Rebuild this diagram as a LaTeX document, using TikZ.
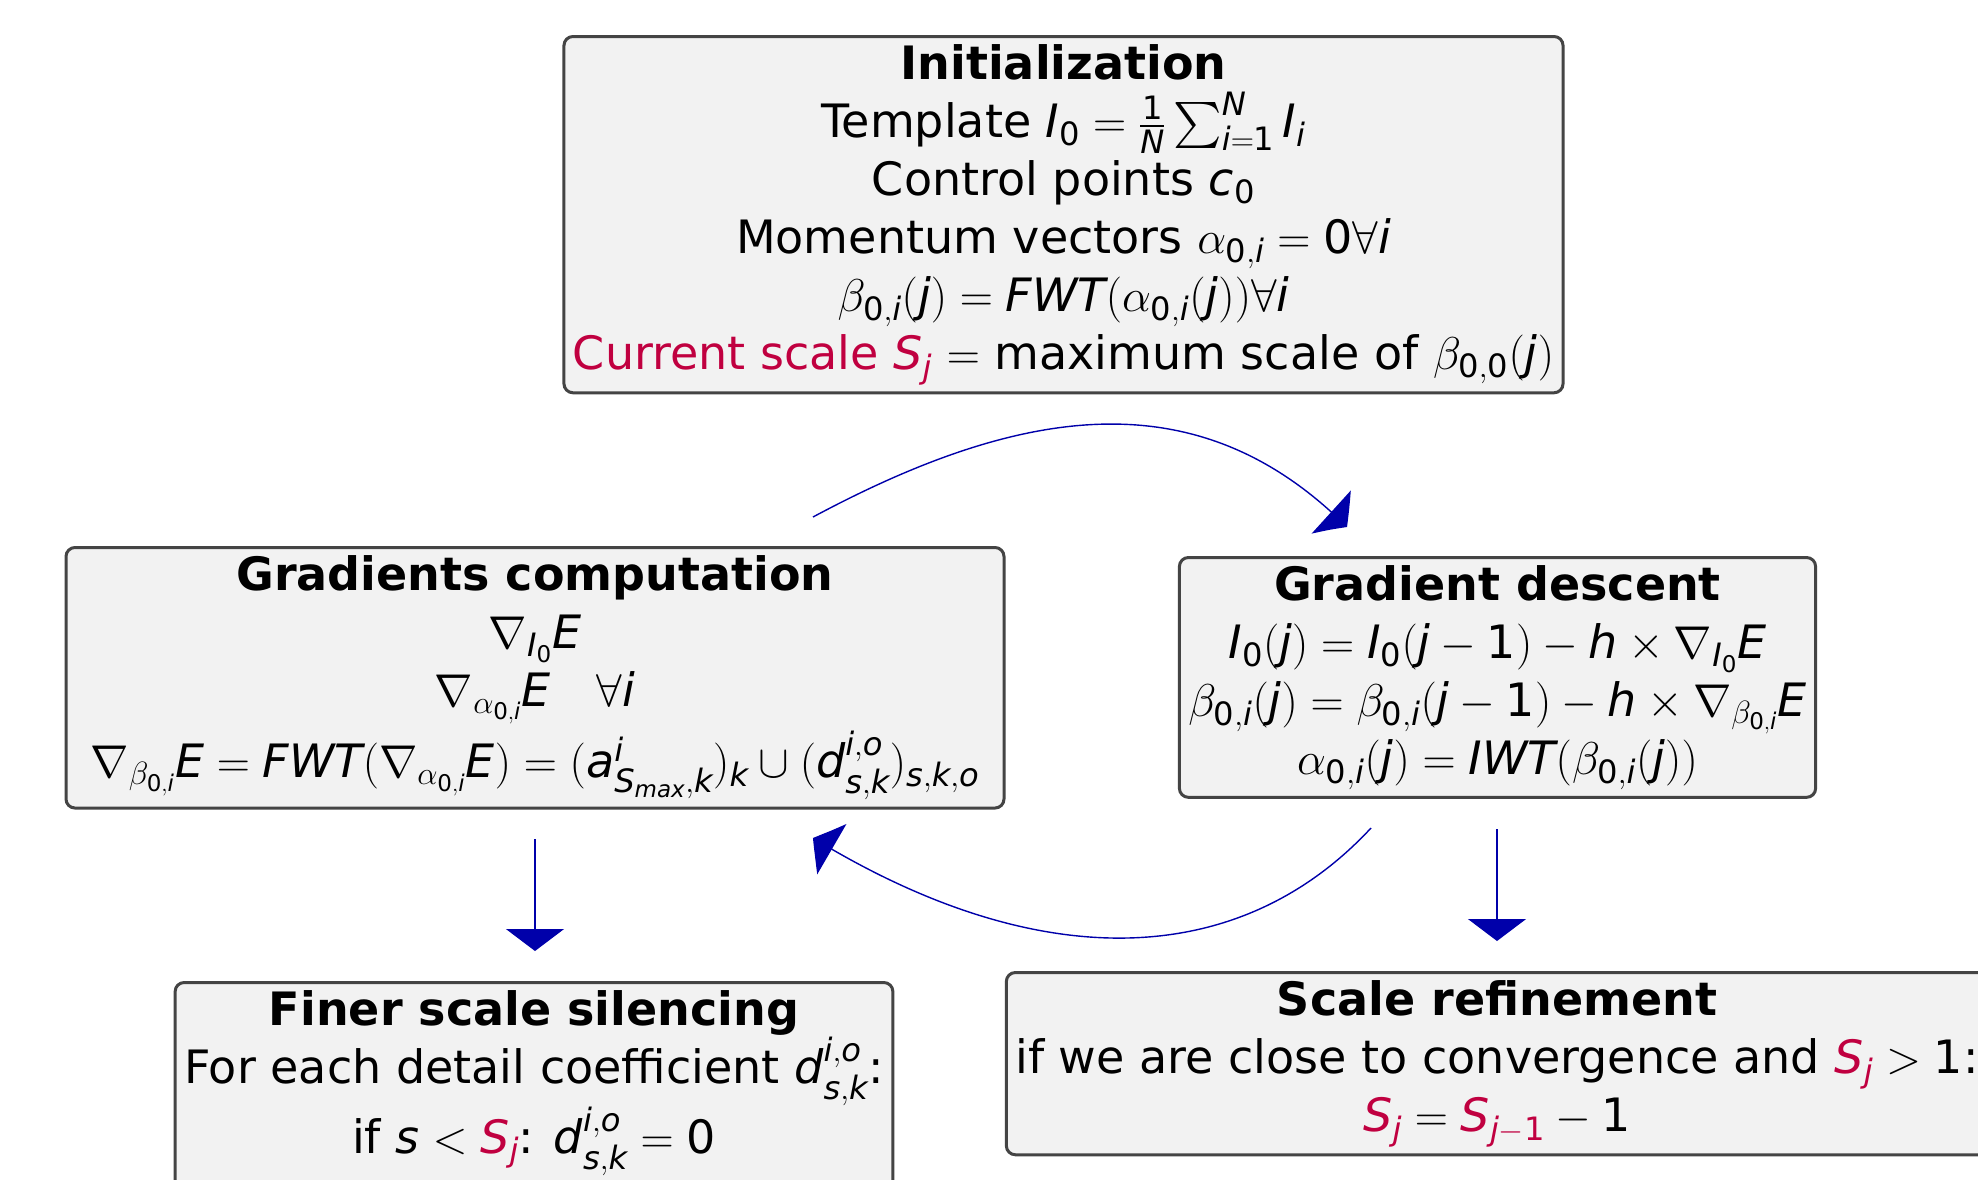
\RequirePackage{fix-cm}
\documentclass[tikz,border=0pt]{standalone}
\usepackage{exscale}
\usepackage[no-math]{fontspec}
\setmainfont{DejaVu Sans}
\DeclareFontShape{OMX}{cmex}{m}{n}{<-> cmex10}{}
\newfontfamily\dvsans[NFSSFamily=dvs]{DejaVu Sans}
\DeclareSymbolFont{sansup}{TU}{dvs}{m}{n}
\DeclareSymbolFont{sansit}{TU}{dvs}{m}{it}
\makeatletter
\newcommand\setsansmathcodes{%
\count@=`0
\loop\ifnum\count@<\numexpr`9+1\relax
  \mathcode\count@=\numexpr "7000+\symsansup*256+\count@\relax
  \advance\count@ by 1
\repeat
\count@=`A
\loop\ifnum\count@<\numexpr`Z+1\relax
  \mathcode\count@=\numexpr "7000+\symsansit*256+\count@\relax
  \advance\count@ by 1
\repeat
\count@=`a
\loop\ifnum\count@<\numexpr`z+1\relax
  \mathcode\count@=\numexpr "7000+\symsansit*256+\count@\relax
  \advance\count@ by 1
\repeat}
\makeatother
\AtBeginDocument{\setsansmathcodes}
\usetikzlibrary{arrows.meta,bending,calc}
\definecolor{boxfill}{RGB}{242,242,242}
\definecolor{boxdraw}{RGB}{68,68,68}
\definecolor{hl}{RGB}{192,0,64}
\definecolor{arr}{RGB}{0,0,170}
\begin{document}
\begin{tikzpicture}[x=1pt,y=-1pt,
  blk/.style={draw=boxdraw,fill=boxfill,line width=3pt,rounded corners=9pt,
    align=center,inner xsep=9pt,inner ysep=8pt,
    font=\fontsize{46pt}{58pt}\selectfont},
  conn/.style={draw=arr,line width=1.4pt,-{Triangle[width=58pt,length=22pt,bend]}}]
\useasboundingbox[fill=white] (0,0) rectangle (1978,1179);

\node[blk,anchor=north] (init) at (1063.5,35) {\textbf{Initialization}\\
Template $I_0=\frac{1}{N}\sum_{i=1}^{N} I_i$\\
Control points $c_0$\\
Momentum vectors $\alpha_{0,i}=0\forall i$\\
$\beta_{0,i}(j)=FWT(\alpha_{0,i}(j))\forall i$\\
{\color{hl}Current scale $S_j$} $=$ maximum scale of $\beta_{0,0}(j)$};

\node[blk,anchor=north,minimum width=938pt] (grad) at (535,546) {\textbf{Gradients computation}\\
$\nabla_{I_0}E$\\
$\nabla_{\alpha_{0,i}}E\quad\forall i$\\[6pt]
$\nabla_{\beta_{0,i}}E=FWT(\nabla_{\alpha_{0,i}}E)=(a^{i}_{S_{max},k})_k\cup(d^{i,o}_{s,k})_{s,k,o}$\rule[-22pt]{0pt}{1pt}};

\node[blk,anchor=north] (desc) at (1497.5,556) {\textbf{Gradient descent}\\
$I_0(j)=I_0(j-1)-h\times\nabla_{I_0}E$\\
$\beta_{0,i}(j)=\beta_{0,i}(j-1)-h\times\nabla_{\beta_{0,i}}E$\\
$\alpha_{0,i}(j)=IWT(\beta_{0,i}(j))$};

\node[blk,anchor=north] (finer) at (534,981) {\textbf{Finer scale silencing}\\
For each detail coefficient $d^{i,o}_{s,k}$:\\
if $s<{\color{hl}S_j}$: $d^{i,o}_{s,k}=0$\\[20pt]};

\node[blk,anchor=north] (refine) at (1497,971) {\textbf{Scale refinement}\\
if we are close to convergence and ${\color{hl}S_j}>1$:\\
${\color{hl}S_j}={\color{hl}S_{j-1}}-1$};

\coordinate (a1s) at (813,517);
\coordinate (a1e) at (1347,527);
\coordinate (a2s) at (1371,828);
\coordinate (a2e) at (813,838);
\coordinate (a3s) at (535,839);
\coordinate (a3e) at (535,951);
\coordinate (a4s) at (1497,829);
\coordinate (a4e) at (1497,941);

\draw[conn] (a1s) .. controls (1024,404) and (1199,379) .. (a1e);
\draw[conn] (a2s) .. controls (1239,970) and (1039,976) .. (a2e);
\draw[conn] (a3s) -- (a3e);
\draw[conn] (a4s) -- (a4e);
\end{tikzpicture}
\end{document}
